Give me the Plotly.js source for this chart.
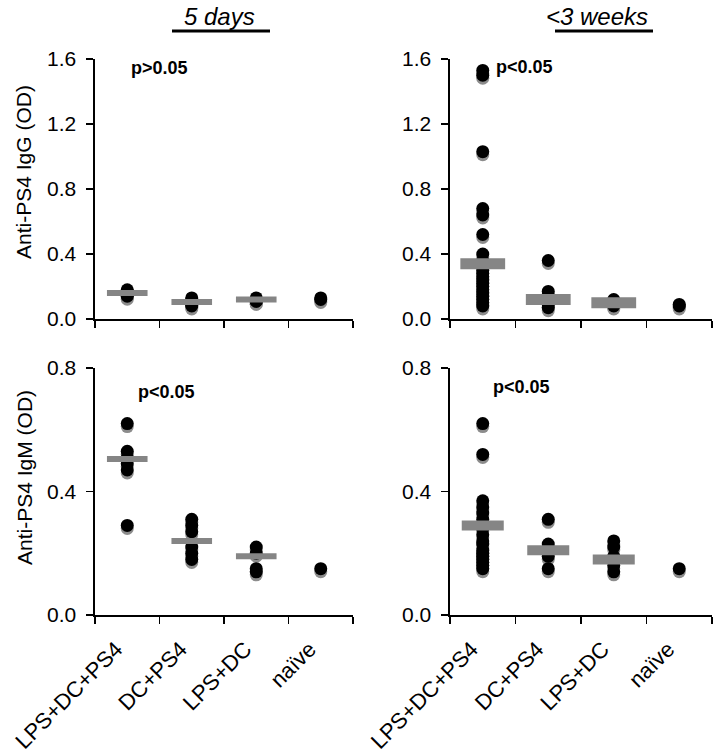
<!DOCTYPE html>
<html>
<head>
<meta charset="utf-8">
<script src="https://cdn.plot.ly/plotly-3.0.1.min.js"></script>
<style>html,body{margin:0;padding:0;background:#fff;}#chart{width:721px;height:756px;}</style>
</head>
<body>
<div id="chart"></div>
<script>
// ---------- data ----------
const categories = ["LPS+DC+PS4", "DC+PS4", "LPS+DC", "naïve"];
const yTicksIgG = [0, 0.4, 0.8, 1.2, 1.6];
const yTicksIgM = [0, 0.4, 0.8];

// IgG, 5 days
const igg5_LPS_DC_PS4 = [0.18, 0.17, 0.16, 0.15, 0.14];
const igg5_DC_PS4     = [0.13, 0.12, 0.10, 0.09, 0.08];
const igg5_LPS_DC     = [0.13, 0.12, 0.11, 0.11];
const igg5_naive      = [0.13, 0.12];
const igg5_median     = [0.16, 0.105, 0.12];

// IgG, <3 weeks
const igg3_LPS_DC_PS4 = [1.53, 1.50, 1.03, 0.68, 0.64, 0.52, 0.40, 0.36, 0.33, 0.30, 0.28,
                         0.26, 0.24, 0.22, 0.20, 0.18, 0.16, 0.14, 0.12, 0.10, 0.08];
const igg3_DC_PS4     = [0.36, 0.17, 0.14, 0.11, 0.09, 0.07];
const igg3_LPS_DC     = [0.12, 0.10, 0.09, 0.08];
const igg3_naive      = [0.09, 0.08];
const igg3_median     = [0.34, 0.12, 0.10];

// IgM, 5 days
const igm5_LPS_DC_PS4 = [0.62, 0.53, 0.51, 0.49, 0.47, 0.29];
const igm5_DC_PS4     = [0.31, 0.29, 0.27, 0.22, 0.20, 0.18];
const igm5_LPS_DC     = [0.22, 0.20, 0.15, 0.14];
const igm5_naive      = [0.15];
const igm5_median     = [0.505, 0.24, 0.19];

// IgM, <3 weeks
const igm3_LPS_DC_PS4 = [0.62, 0.52, 0.37, 0.35, 0.33, 0.31, 0.29, 0.28, 0.26, 0.24, 0.23,
                         0.21, 0.20, 0.19, 0.18, 0.17, 0.16, 0.15];
const igm3_DC_PS4     = [0.31, 0.23, 0.21, 0.19, 0.15];
const igm3_LPS_DC     = [0.24, 0.22, 0.19, 0.16, 0.14];
const igm3_naive      = [0.15];
const igm3_median     = [0.29, 0.21, 0.18];

// ---------- helpers ----------
const W = 721, H = 756;
const FONT = "Liberation Sans, Arial, sans-serif";
const px = v => v / W;
const py = v => 1 - v / H;

function groupXY(groups) {
  const xs = [], ys = [];
  groups.forEach((g, i) => g.forEach(v => { xs.push(i); ys.push(v); }));
  return {xs, ys};
}

const traces = [];
function addPanel(groups, medians, xa, yBase, yOver, barW, barH) {
  const {xs, ys} = groupXY(groups);
  traces.push({type: "scatter", mode: "markers", x: xs, y: ys, xaxis: xa, yaxis: yBase,
    marker: {size: 13, color: "#8c8c8c"}, hoverinfo: "skip", showlegend: false, cliponaxis: false});
  traces.push({type: "scatter", mode: "markers", x: xs, y: ys, xaxis: xa, yaxis: yOver,
    marker: {size: 13, color: "#000"}, showlegend: false, cliponaxis: false});
  traces.push({type: "scatter", mode: "markers", x: medians.map((_, i) => i), y: medians,
    xaxis: xa, yaxis: yOver, showlegend: false, cliponaxis: false,
    marker: {symbol: "line-ew", size: barW, color: "#858585", line: {color: "#858585", width: barH}}});
}

addPanel([igg5_LPS_DC_PS4, igg5_DC_PS4, igg5_LPS_DC, igg5_naive], igg5_median, "x", "y", "y2", 29, 6);
addPanel([igg3_LPS_DC_PS4, igg3_DC_PS4, igg3_LPS_DC, igg3_naive], igg3_median, "x2", "y3", "y4", 32, 11);
addPanel([igm5_LPS_DC_PS4, igm5_DC_PS4, igm5_LPS_DC, igm5_naive], igm5_median, "x3", "y5", "y6", 29, 6);
addPanel([igm3_LPS_DC_PS4, igm3_DC_PS4, igm3_LPS_DC, igm3_naive], igm3_median, "x4", "y7", "y8", 30, 10);

const leftDom = [px(95), px(353)];
const rightDom = [px(450), px(712)];
const topDom = [py(319), py(59)];
const botDom = [py(615), py(368)];
const topShift = 3 * 1.6 / (319 - 59);
const botShift = 3 * 0.8 / (615 - 368);

function xAxis(domain, anchor, labels) {
  return {domain, anchor, range: [-0.5, 3.5], showline: true, linecolor: "#000", linewidth: 1.6,
    showgrid: false, zeroline: false, fixedrange: true,
    tickmode: "array", tickvals: [0, 1, 2, 3], ticktext: categories, ticks: "",
    showticklabels: labels, tickangle: -45, ticklabelstandoff: 11, ticklabelshift: -11,
    tickfont: {family: FONT, size: 22, color: "#000"},
    minor: {tickmode: "array", tickvals: [-0.5, 0.5, 1.5, 2.5, 3.5], ticks: "outside",
            ticklen: 7, tickwidth: 1.6, tickcolor: "#000", showgrid: false}};
}
function yBase(domain, anchor, range, shift) {
  return {domain, anchor, range: [range[0] + shift, range[1] + shift], visible: false, fixedrange: true};
}
function yOver(over, anchor, range, ticks) {
  return {overlaying: over, anchor, side: "left", range, showline: true, linecolor: "#000", linewidth: 1.6,
    showgrid: false, zeroline: false, fixedrange: true,
    tickmode: "array", tickvals: ticks, tickformat: ".1f", ticks: "outside", ticklen: 7, tickwidth: 1.6,
    ticklabelstandoff: 6,
    tickcolor: "#000", tickfont: {family: FONT, size: 21, color: "#000"}};
}

const layout = {
  width: W, height: H, margin: {l: 0, r: 0, t: 0, b: 0}, paper_bgcolor: "#fff", plot_bgcolor: "rgba(0,0,0,0)",
  showlegend: false, font: {family: FONT, color: "#000"},
  xaxis: xAxis(leftDom, "y", false),
  xaxis2: xAxis(rightDom, "y3", false),
  xaxis3: xAxis(leftDom, "y5", true),
  xaxis4: xAxis(rightDom, "y7", true),
  yaxis: yBase(topDom, "x", [0, 1.6], topShift),
  yaxis2: yOver("y", "x", [0, 1.6], yTicksIgG),
  yaxis3: yBase(topDom, "x2", [0, 1.6], topShift),
  yaxis4: yOver("y3", "x2", [0, 1.6], yTicksIgG),
  yaxis5: yBase(botDom, "x3", [0, 0.8], botShift),
  yaxis6: yOver("y5", "x3", [0, 0.8], yTicksIgM),
  yaxis7: yBase(botDom, "x4", [0, 0.8], botShift),
  yaxis8: yOver("y7", "x4", [0, 0.8], yTicksIgM),
  annotations: [
    {text: "<i>5 days</i>", xref: "paper", yref: "paper", x: px(220), y: py(16), xanchor: "center", yanchor: "middle",
     showarrow: false, font: {family: FONT, size: 24, color: "#000"}},
    {text: "<i>&lt;3 weeks</i>", xref: "paper", yref: "paper", x: px(597), y: py(16), xanchor: "center", yanchor: "middle",
     showarrow: false, font: {family: FONT, size: 24, color: "#000"}},
    {text: "<b>p>0.05</b>", xref: "paper", yref: "paper", x: px(129), y: py(68), xanchor: "left", yanchor: "middle",
     showarrow: false, font: {family: FONT, size: 18, color: "#000"}},
    {text: "<b>p<0.05</b>", xref: "paper", yref: "paper", x: px(494), y: py(67), xanchor: "left", yanchor: "middle",
     showarrow: false, font: {family: FONT, size: 18, color: "#000"}},
    {text: "<b>p<0.05</b>", xref: "paper", yref: "paper", x: px(136), y: py(392), xanchor: "left", yanchor: "middle",
     showarrow: false, font: {family: FONT, size: 18, color: "#000"}},
    {text: "<b>p<0.05</b>", xref: "paper", yref: "paper", x: px(491), y: py(387), xanchor: "left", yanchor: "middle",
     showarrow: false, font: {family: FONT, size: 18, color: "#000"}},
    {text: "Anti-PS4 IgG (OD)", xref: "paper", yref: "paper", x: px(24), y: py(172), xanchor: "center", yanchor: "middle",
     textangle: -90, showarrow: false, font: {family: FONT, size: 21, color: "#000"}},
    {text: "Anti-PS4 IgM (OD)", xref: "paper", yref: "paper", x: px(24), y: py(478), xanchor: "center", yanchor: "middle",
     textangle: -90, showarrow: false, font: {family: FONT, size: 21, color: "#000"}}
  ],
  shapes: [
    {type: "line", xref: "paper", yref: "paper", x0: px(172), x1: px(270), y0: py(31), y1: py(31), line: {color: "#000", width: 3}},
    {type: "line", xref: "paper", yref: "paper", x0: px(555), x1: px(653), y0: py(31), y1: py(31), line: {color: "#000", width: 3}}
  ]
};

Plotly.newPlot("chart", traces, layout, {staticPlot: true, displayModeBar: false});
</script>
</body>
</html>
